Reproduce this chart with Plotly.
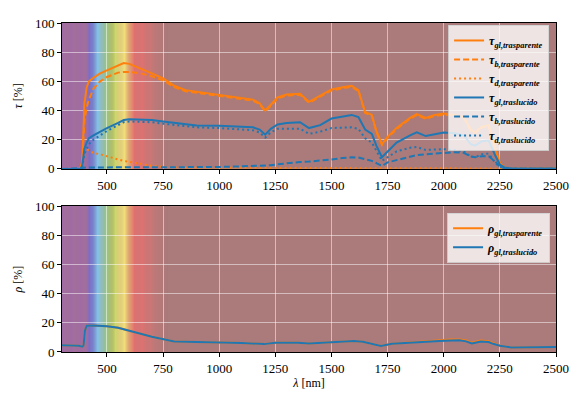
import plotly.graph_objects as go
from plotly.subplots import make_subplots

# ---------------- data ----------------
lam_tau = [300, 380, 390, 395, 400, 410, 420, 440, 470, 500, 550, 575, 600, 650, 700, 750, 800, 850, 900,
           1000, 1100, 1150, 1180, 1205, 1230, 1260, 1300, 1360, 1400, 1450, 1500, 1550, 1590, 1620, 1650,
           1680, 1700, 1725, 1750, 1790, 1850, 1880, 1920, 1960, 2000, 2050, 2090, 2120, 2140, 2170, 2200,
           2230, 2250, 2270, 2300, 2400, 2500]

tau_gl_trasparente = [0, 0, 5, 25, 45, 56, 60, 62.5, 65.5, 67.5, 71, 72.5, 72, 69, 65.5, 62, 57, 54, 53,
                      51, 49, 47.5, 45, 40, 44, 49, 51, 51.5, 46, 50, 54.5, 56, 57, 54, 39,
                      37, 26, 17, 22, 28, 35, 37.5, 35, 37, 38, 37, 35.5, 27, 25, 29, 30,
                      14, 4, 1, 0.3, 0.2, 0.2]
tau_b_trasparente = [0, 0, 3, 17, 33, 42.5, 47.5, 55, 60, 63, 66, 66.5, 66.5, 65.5, 63.5, 60.7, 56, 53.2, 52.2,
                     50.3, 48.3, 46.8, 44.3, 39.3, 43.3, 48.3, 50.3, 50.8, 45.3, 49.3, 53.8, 55.3, 56.3, 53.3, 38.3,
                     36.3, 25.3, 16.4, 21.3, 27.3, 34.3, 36.8, 34.3, 36.3, 37.2, 36.3, 34.8, 26.4, 24.4, 28.4, 29.4,
                     13.6, 3.7, 0.9, 0.2, 0.1, 0.1]
tau_d_trasparente = [0, 0, 2, 8, 12, 13.5, 12.5, 11, 10, 8.5, 6.5, 5.5, 5, 3.5, 2, 1.3, 1, 0.8, 0.8,
                     0.7, 0.7, 0.7, 0.7, 0.7, 0.7, 0.7, 0.7, 0.7, 0.7, 0.7, 0.7, 0.7, 0.7, 0.7, 0.7,
                     0.7, 0.7, 0.6, 0.7, 0.7, 0.7, 0.7, 0.7, 0.7, 0.8, 0.7, 0.7, 0.6, 0.6, 0.6, 0.6,
                     0.4, 0.3, 0.1, 0.1, 0.1, 0.1]
tau_gl_traslucido = [0, 0, 2, 8, 14, 18, 21, 23, 25.5, 28, 31.5, 33.5, 34, 34, 33.5, 32.5, 31.5, 30.5, 29.8,
                     29.5, 29, 28.5, 27, 23.5, 27.5, 30.5, 31.5, 32, 28, 30, 34.5, 36, 37, 35.5, 27,
                     24, 16, 8, 12, 18, 23, 25, 22.5, 24, 25, 24.5, 23, 17, 16, 19, 19.5,
                     9, 3, 1, 0.3, 0.2, 0.2]
tau_b_traslucido = [0, 0, 0.5, 0.8, 1, 1, 1, 1, 1, 1, 1, 1, 1, 1, 1, 1, 1.1, 1.1, 1.2,
                    1.3, 1.8, 2, 2.2, 2, 2.5, 3.2, 4, 4.7, 5, 5.5, 6.5, 7.5, 8, 7.8, 6.5,
                    5.5, 4, 2, 4.5, 6, 8.5, 9.5, 10, 10.5, 11.2, 11.5, 11, 8.5, 8, 8.7, 8.7,
                    5, 1.5, 0.5, 0.1, 0.1, 0.1]
tau_d_traslucido = [0, 0, 1.5, 6, 10, 14, 17, 20, 23, 26, 30, 32, 32.5, 32.5, 32, 31, 30, 29, 28.5,
                    28, 27, 26.5, 25, 21.5, 25, 27.5, 27.5, 27.5, 24, 25.5, 28, 28.5, 28.5, 27.5, 21,
                    18, 12, 5.5, 8, 12, 14.5, 15, 13, 13.5, 13.5, 13, 12, 8.5, 8, 10, 10.5,
                    4, 1.5, 0.5, 0.2, 0.1, 0.1]

lam_rho = [300, 330, 360, 375, 390, 396, 402, 410, 440, 470, 500, 550, 600, 650, 700, 750, 800, 850, 900,
           1000, 1100, 1150, 1200, 1250, 1300, 1350, 1400, 1450, 1500, 1550, 1600, 1640, 1670, 1720, 1770,
           1850, 1900, 1950, 1980, 2030, 2070, 2100, 2125, 2165, 2200, 2220, 2250, 2300, 2400, 2500]
rho_gl_trasparente = [4.7, 4.5, 4.6, 4.2, 3.6, 4.5, 14.5, 18, 18.2, 18, 17.6, 16.6, 14.3, 12.5, 10.4, 8.6, 7.2, 7, 7,
                      6.5, 6.2, 6, 5.4, 6.3, 6.3, 6.4, 5.8, 6.3, 7, 7.3, 7.6, 7, 5.8, 4.2, 5.6,
                      6.5, 7, 7.8, 8.1, 8.5, 8.6, 7.9, 6.4, 7.8, 7.4, 6.2, 4.3, 3.1, 3.2, 3.5]
rho_gl_traslucido = [4.7, 4.5, 4.6, 4.2, 3.6, 4.5, 14.5, 18, 18.2, 18, 17.6, 16.6, 14.3, 12.5, 10.4, 8.6, 7.2, 7, 7,
                     6.5, 6.2, 6, 5.4, 6.3, 6.3, 6.4, 5.8, 6.3, 7, 7.3, 7.6, 7, 5.8, 4.2, 5.6,
                     6.5, 7, 7.3, 7.5, 7.8, 8, 7.3, 5.8, 7.2, 6.8, 5.6, 4.3, 3.1, 3.2, 3.5]

x_ticks = [500, 750, 1000, 1250, 1500, 1750, 2000, 2250, 2500]
y_ticks = [0, 20, 40, 60, 80, 100]

# ---------------- styling ----------------
ORANGE = "#ff7f0e"
BLUE = "#1f77b4"
FONT = "Liberation Serif"

# visible-spectrum background colour stops (as they appear on the plot)
spec_stops = [
    (300, (160, 108, 165)), (408, (160, 108, 165)), (422, (125, 110, 200)), (437, (105, 130, 225)),
    (458, (130, 195, 235)), (478, (140, 205, 205)), (498, (150, 200, 130)), (528, (185, 210, 100)),
    (557, (238, 228, 122)), (582, (242, 222, 122)), (602, (235, 165, 112)), (622, (230, 112, 112)),
    (662, (222, 115, 115)), (705, (198, 120, 120)), (765, (170, 123, 122)),
]
BROWN = "rgb(170,123,122)"


def spec_color(l):
    for (l0, c0), (l1, c1) in zip(spec_stops[:-1], spec_stops[1:]):
        if l0 <= l <= l1:
            t = (l - l0) / (l1 - l0) if l1 > l0 else 0
            c = [round(a + (b - a) * t) for a, b in zip(c0, c1)]
            return "rgb(%d,%d,%d)" % tuple(c)
    return BROWN


fig = make_subplots(rows=2, cols=1, vertical_spacing=0.113)

def legname(sym, sub):
    return "<b><i>%s</i><sub><i>%s</i></sub></b>" % (sym, sub)

tau_series = [
    (tau_gl_trasparente, ORANGE, "solid", legname("τ", "gl,trasparente")),
    (tau_b_trasparente, ORANGE, "6px,3px", legname("τ", "b,trasparente")),
    (tau_d_trasparente, ORANGE, "2px,3px", legname("τ", "d,trasparente")),
    (tau_gl_traslucido, BLUE, "solid", legname("τ", "gl,traslucido")),
    (tau_b_traslucido, BLUE, "6px,3px", legname("τ", "b,traslucido")),
    (tau_d_traslucido, BLUE, "2px,3px", legname("τ", "d,traslucido")),
]
for vals, col, dash, name in tau_series:
    fig.add_trace(go.Scatter(x=lam_tau, y=vals, mode="lines", name=name,
                             line=dict(color=col, width=2, dash=dash), legend="legend"), row=1, col=1)

rho_series = [
    (rho_gl_trasparente, ORANGE, legname("ρ", "gl,trasparente")),
    (rho_gl_traslucido, BLUE, legname("ρ", "gl,traslucido")),
]
for vals, col, name in rho_series:
    fig.add_trace(go.Scatter(x=lam_rho, y=vals, mode="lines", name=name,
                             line=dict(color=col, width=2), legend="legend2"), row=2, col=1)

# spectrum background
step = 4
shapes = []
for xref, yref in (("x", "y"), ("x2", "y2")):
    l = 300
    while l < 780:
        shapes.append(dict(type="rect", xref=xref, yref=yref, x0=l, x1=l + step + 0.5, y0=0, y1=100,
                           fillcolor=spec_color(l + step / 2), line=dict(width=0), layer="below"))
        l += step
fig.update_layout(shapes=shapes)

axis_common = dict(showline=True, linecolor="black", linewidth=1, mirror=True, ticks="outside",
                   ticklen=4, tickcolor="black", showgrid=True, gridcolor="rgba(255,255,255,0.5)",
                   gridwidth=1, zeroline=False, tickfont=dict(family=FONT, size=13, color="black"))
for r in (1, 2):
    fig.update_xaxes(range=[300, 2500], tickvals=x_ticks, row=r, col=1, **axis_common)
    fig.update_yaxes(range=[0, 100], tickvals=y_ticks, row=r, col=1, **axis_common)

fig.update_xaxes(title=dict(text="<i>λ</i> [nm]", font=dict(family=FONT, size=12, color="black"),
                            standoff=3), row=2, col=1)
fig.update_yaxes(title=dict(text="<i>τ</i> [%]", font=dict(family=FONT, size=12, color="black"),
                            standoff=9), row=1, col=1)
fig.update_yaxes(title=dict(text="<i>ρ</i> [%]", font=dict(family=FONT, size=12, color="black"),
                            standoff=9), row=2, col=1)

leg_common = dict(bgcolor="rgba(255,255,255,0.8)", bordercolor="rgba(210,210,210,0.9)", borderwidth=1,
                  font=dict(family=FONT, size=12, color="black"), xanchor="right", yanchor="top",
                  tracegroupgap=0, itemwidth=30)
fig.update_layout(
    width=580, height=397,
    margin=dict(l=54, r=32, t=8, b=53),
    paper_bgcolor="white",
    plot_bgcolor=BROWN,
    font=dict(family=FONT, size=12, color="black"),
    showlegend=True,
    legend=dict(x=0.986, y=0.994, **leg_common),
    legend2=dict(x=0.988, y=0.423, **leg_common),
)

fig.write_html("out.html")
